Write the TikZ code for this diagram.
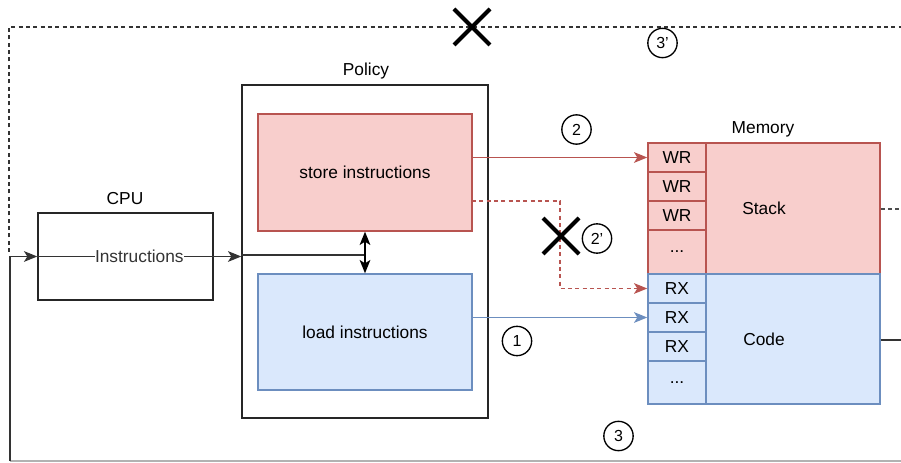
\documentclass[tikz,border=0pt]{standalone}
\usepackage{fontspec}
\setmainfont{Liberation Sans}
\usetikzlibrary{arrows.meta,calc}
\definecolor{pinkfill}{HTML}{F8CECC}
\definecolor{pinkline}{HTML}{B85450}
\definecolor{bluefill}{HTML}{DAE8FC}
\definecolor{blueline}{HTML}{6C8EBF}
\definecolor{darkline}{HTML}{333333}
\begin{document}
\begin{tikzpicture}[x=0.75pt,y=-0.75pt,
  box/.style={draw=black!85,line width=1pt,inner sep=0pt},
  redbox/.style={draw=pinkline,fill=pinkfill,line width=1pt,inner sep=0pt},
  bluebox/.style={draw=blueline,fill=bluefill,line width=1pt,inner sep=0pt},
  cell/.style={minimum width=43.5pt,minimum height=21.75pt,inner sep=0pt,font=\fontsize{13}{15}\selectfont},
  lbl/.style={font=\fontsize{13}{15}\selectfont,inner sep=1pt},
  num/.style={draw=black,circle,line width=1pt,minimum size=22pt,inner sep=0pt,font=\fontsize{12}{14}\selectfont},
  arr/.style={line width=1pt,-{Stealth[length=10pt,width=8pt,inset=2.5pt]}},
  dbl/.style={line width=1pt,{Stealth[length=10pt,width=8pt,inset=2.5pt]}-{Stealth[length=10pt,width=8pt,inset=2.5pt]}},
  xmark/.style={line width=3pt,black},
  dsh/.style={dash pattern=on 3pt off 2.5pt}
]
\useasboundingbox (0,0) rectangle (901,463);

% CPU
\node[box,minimum width=131.25pt,minimum height=65.25pt] (cpu) at (125.5,256.5) {};
\node[lbl] (cpulbl) at (125,199) {CPU};

% Policy
\node[box,minimum width=184.5pt,minimum height=249.75pt] (policy) at (365,251.5) {};
\node[lbl] (pollbl) at (366,71) {Policy};
\node[redbox,minimum width=160.5pt,minimum height=87.75pt,lbl] (store) at (365,172.5) {store instructions};
\node[bluebox,minimum width=160.5pt,minimum height=87pt,lbl] (load) at (365,332) {load instructions};

% Memory
\node[lbl] (memlbl) at (763,129) {Memory};
\node[redbox,minimum width=174pt,minimum height=98.25pt,lbl] (stack) at (764,208.5) {Stack};
\node[bluebox,minimum width=174pt,minimum height=97.5pt,lbl] (code) at (764,339) {Code};
\node[redbox,cell] (wr1) at (677,157.5) {WR};
\node[redbox,cell] (wr2) at (677,186.5) {WR};
\node[redbox,cell] (wr3) at (677,215.5) {WR};
\node[redbox,cell,minimum height=33pt] (wr4) at (677,252) {...};
\node[bluebox,cell] (rx1) at (677,288.5) {RX};
\node[bluebox,cell] (rx2) at (677,317.5) {RX};
\node[bluebox,cell] (rx3) at (677,346.5) {RX};
\node[bluebox,cell,minimum height=32.25pt] (rx4) at (677,382.5) {...};

% feedback loops
\coordinate (bl) at (10,461);
\coordinate (dtop) at (9,27);
\coordinate (dtr) at (901,27);
\coordinate (dl) at (9,252);
\coordinate (sr) at (901,209);
\coordinate (cr) at (901,340);
\coordinate (br) at (901,461);
\draw[line width=1pt,dsh,black!80] (dl) -- (dtop) -- (dtr);
\draw[line width=1pt,dsh,black!70] (stack.east |- sr) -- (sr);
\draw[line width=1pt,darkline] (code.east |- cr) -- (cr);
\draw[line width=1pt,black!30] (bl) -- (br);
\draw[arr,darkline] (bl) |- (cpu.west);
\draw[arr,darkline] (cpu.west) -- node[fill=white,lbl,inner sep=0pt] (instr) {Instructions} (policy.west |- cpu.west);

% policy internal
\coordinate (pj) at (365,255);
\draw[line width=1pt,darkline] (policy.west |- pj) -- (pj);
\draw[dbl] (store.south) -- (load.north);

% memory accesses
\draw[arr,pinkline] (store.east |- wr1.west) -- (wr1.west);
\coordinate (d1) at (472,201);
\coordinate (d2) at (560,201);
\draw[arr,pinkline,dsh] (d1) -- (d2) |- (rx1.west);
\draw[arr,blueline] (load.east |- rx2.west) -- (rx2.west);

% X marks
\coordinate (x1) at (472,27);
\coordinate (x2) at (561,236);
\draw[xmark] ($(x1)+(-18,-18)$) -- ($(x1)+(18,18)$);
\draw[xmark] ($(x1)+(-18,18)$) -- ($(x1)+(18,-18)$);
\draw[xmark] ($(x2)+(-18,-18)$) -- ($(x2)+(18,18)$);
\draw[xmark] ($(x2)+(-18,18)$) -- ($(x2)+(18,-18)$);

% numbers
\node[num] (n1) at (517,341) {1};
\node[num] (n2) at (576.5,129.5) {2};
\node[num] (n2p) at (597,238.5) {2'};
\node[num] (n3) at (618.5,436) {3};
\node[num] (n3p) at (662.5,43) {3'};
\end{tikzpicture}
\end{document}
